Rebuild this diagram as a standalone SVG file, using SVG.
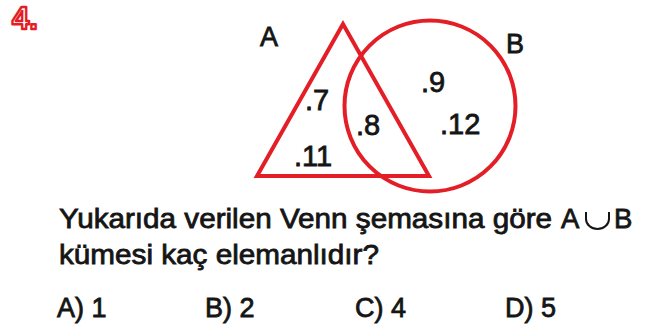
<svg xmlns="http://www.w3.org/2000/svg" width="658" height="331" viewBox="0 0 658 331">
<style>
.t{font-family:"Liberation Sans",Arial,sans-serif;fill:#151515;stroke:#151515;stroke-width:0.8}
.n{font-size:29px}
.q{font-size:27.5px}
.shape{fill:none;stroke:#e41e26;stroke-width:4}
</style>
<rect width="658" height="331" fill="#ffffff"/>
<g id="badge">
<text x="12" y="29" font-family="Liberation Sans, Arial, sans-serif" font-weight="bold" font-size="31" fill="#ffffff" stroke="#e41e26" stroke-width="2.4" stroke-linejoin="round">4.</text>
</g>
<g id="setA">
<polygon class="shape" points="343,24 257,176 429,176" stroke-linejoin="miter"/>
<text class="t" x="260" y="46" font-size="27">A</text>
</g>
<g id="setB">
<circle class="shape" cx="430" cy="106" r="85.5"/>
<text class="t" x="506" y="53" font-size="27">B</text>
</g>
<g id="elements">
<text class="t n" x="305" y="110">.7</text>
<text class="t n" x="294" y="166">.11</text>
<text class="t n" x="356" y="135">.8</text>
<text class="t n" x="421" y="92">.9</text>
<text class="t n" x="440" y="134">.12</text>
</g>
<g id="question">
<text class="t q" x="59" y="228" textLength="493" lengthAdjust="spacingAndGlyphs">Yukarıda verilen Venn şemasına göre</text>
<text class="t q" x="561" y="228">A</text>
<path d="M586,212 V219 A11.5,10 0 0 0 609,219 V212" fill="none" stroke="#151515" stroke-width="2"/>
<text class="t q" x="614" y="228">B</text>
<text class="t q" x="59" y="264" textLength="320" lengthAdjust="spacingAndGlyphs">kümesi kaç elemanlıdır?</text>
</g>
<g id="answers">
<text class="t" x="57" y="317" font-size="27">A) 1</text>
<text class="t" x="205" y="317" font-size="27">B) 2</text>
<text class="t" x="355" y="317" font-size="27">C) 4</text>
<text class="t" x="505" y="317" font-size="27">D) 5</text>
</g>
</svg>
